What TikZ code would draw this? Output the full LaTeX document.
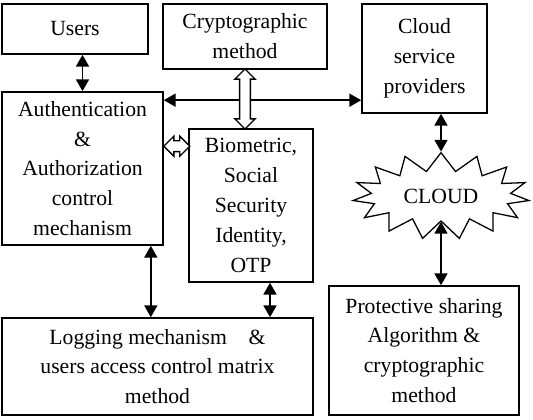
\documentclass[tikz,border=0pt]{standalone}
\usepackage{fontspec}
\setmainfont{Liberation Serif}
\usetikzlibrary{calc, positioning, shapes.symbols, shapes.arrows, arrows.meta}

\begin{document}
\begin{tikzpicture}[
  x=0.3mm, y=-0.3mm,
  blk/.style={rectangle, draw=black, line width=1.4pt, align=center, font=\fontsize{18.5}{25.5}\selectfont, inner sep=2pt},
  arr/.style={{Triangle[length=10pt,width=11pt]}-{Triangle[length=10pt,width=11pt]}, line width=1.5pt},
  hollow/.style={double arrow, draw=black, fill=white, line width=1.2pt, inner sep=4pt, double arrow head extend=4pt, double arrow tip angle=90}
]
  \useasboundingbox (0,0) rectangle (533,420);

  % top row
  \node[blk, minimum width=4.38cm, minimum height=1.5cm] (users) at (75,29) {Users};
  \node[blk, minimum width=4.92cm, minimum height=1.95cm] (crypto) at (245,36.5) {Cryptographic\\method};
  \node[blk, minimum width=3.75cm, minimum height=3.27cm] (csp) at (424.5,58.5) {Cloud\\service\\providers};

  % middle
  \node[blk, minimum width=4.83cm, minimum height=4.59cm] (auth) at (82.5,168.5) {Authentication\\\&\\Authorization\\control\\mechanism};
  \node[blk, minimum width=3.72cm, minimum height=4.59cm] (bio) at (251,205.5) {Biometric,\\Social\\Security\\Identity,\\OTP};
  \node[draw=black, line width=1.1pt, starburst, starburst points=15, starburst point height=0.55cm, random starburst=0,
        minimum width=5.3cm, minimum height=2.6cm, font=\fontsize{18.5}{25.5}\selectfont] (cloud) at (441,196) {CLOUD};

  % bottom row
  \node[blk, minimum width=9.33cm, minimum height=2.91cm] (log) at (157.5,366.5) {Logging mechanism\quad\&\\users access control matrix\\method};
  \node[blk, minimum width=5.7cm, minimum height=3.87cm] (prot) at (424,350.5) {Protective sharing\\Algorithm \&\\cryptographic\\method};

  % free ends
  \coordinate (h1) at ($(auth.north east)+(0,9)$);
  \coordinate (v1) at ($(auth.south east)+(-13,0)$);
  \coordinate (v2) at ($(bio.south)+(19,0)$);

  % connectors
  \draw[arr] (users.south -| auth.north) -- (auth.north);
  \draw[arr] (h1) -- (h1 -| csp.west);
  \draw[arr] (csp.south -| cloud.north) -- (cloud.north);
  \draw[arr] (cloud.south) -- (cloud.south |- prot.north);
  \draw[arr] (v1) -- (v1 |- log.north);
  \draw[arr] (v2) -- (v2 |- log.north);

  \node[hollow, rotate=90, minimum height=1.8cm] (cb) at ($(crypto.south)!0.5!(crypto.south |- bio.north)$) {};
  \node[hollow, minimum height=0.78cm] (ab) at ($(auth.north east)+(13,55)$) {};
\end{tikzpicture}
\end{document}
